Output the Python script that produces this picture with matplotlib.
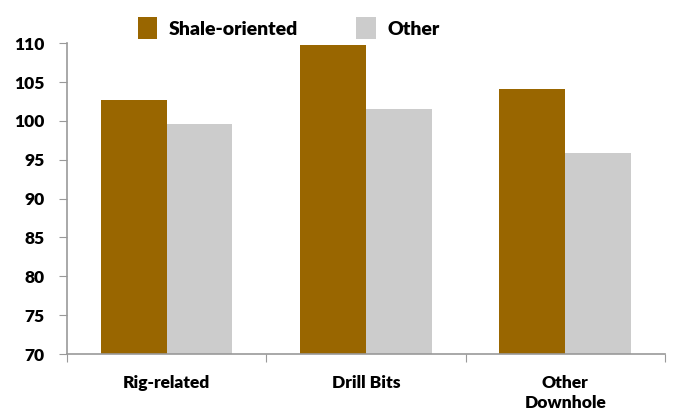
import numpy as np
from matplotlib import pyplot as plt
from matplotlib.ticker import FixedLocator

categories = ["Rig-related", "Drill Bits", "Other\nDownhole"]
shale = [102.7, 109.7, 104.1]
other = [99.6, 101.5, 95.9]
series_names = ["Shale-oriented", "Other"]
yticks = [70, 75, 80, 85, 90, 95, 100, 105, 110]

plt.rcParams['font.family'] = ['Lato', 'DejaVu Sans']
plt.rcParams['font.weight'] = 'heavy'

fig = plt.figure(figsize=(6.75, 4.19), dpi=100)
ax = fig.add_axes([0.099, 0.155, 0.886, 0.742])

x = np.arange(len(categories))
width = 0.33
b1 = ax.bar(x - width / 2, shale, width, color='#996600', label=series_names[0])
b2 = ax.bar(x + width / 2, other, width, color='#cccccc', label=series_names[1])

ax.set_xlim(-0.5, len(categories) - 0.5)
ax.set_ylim(70, 110)
ax.set_yticks(yticks)
ax.set_yticklabels([str(v) for v in yticks], fontsize=12.5, fontweight='heavy')

# boundaries between categories get the tick marks, centers get the labels
ax.xaxis.set_major_locator(FixedLocator(np.arange(len(categories) + 1) - 0.5))
ax.xaxis.set_minor_locator(FixedLocator(x))
ax.set_xticklabels([''] * (len(categories) + 1))
ax.set_xticklabels(categories, minor=True, fontsize=12.5, fontweight='heavy',
                   linespacing=1.3)
ax.tick_params(axis='x', which='major', length=6, color='#999999', direction='out')
ax.tick_params(axis='x', which='minor', length=0, pad=15)
ax.tick_params(axis='y', length=6, color='#999999', direction='out', pad=10)

for side in ['top', 'right']:
    ax.spines[side].set_visible(False)
for side in ['left', 'bottom']:
    ax.spines[side].set_color('#999999')
    ax.spines[side].set_linewidth(1.2)

fig.legend(handles=[b1, b2], loc='upper left', bbox_to_anchor=(0.178, 1.0),
           ncol=2, frameon=False, prop={'weight': 'heavy', 'size': 14},
           handlelength=1.0, handleheight=1.3, columnspacing=3.0, handletextpad=0.6)

fig.savefig('out.png', dpi=100)
